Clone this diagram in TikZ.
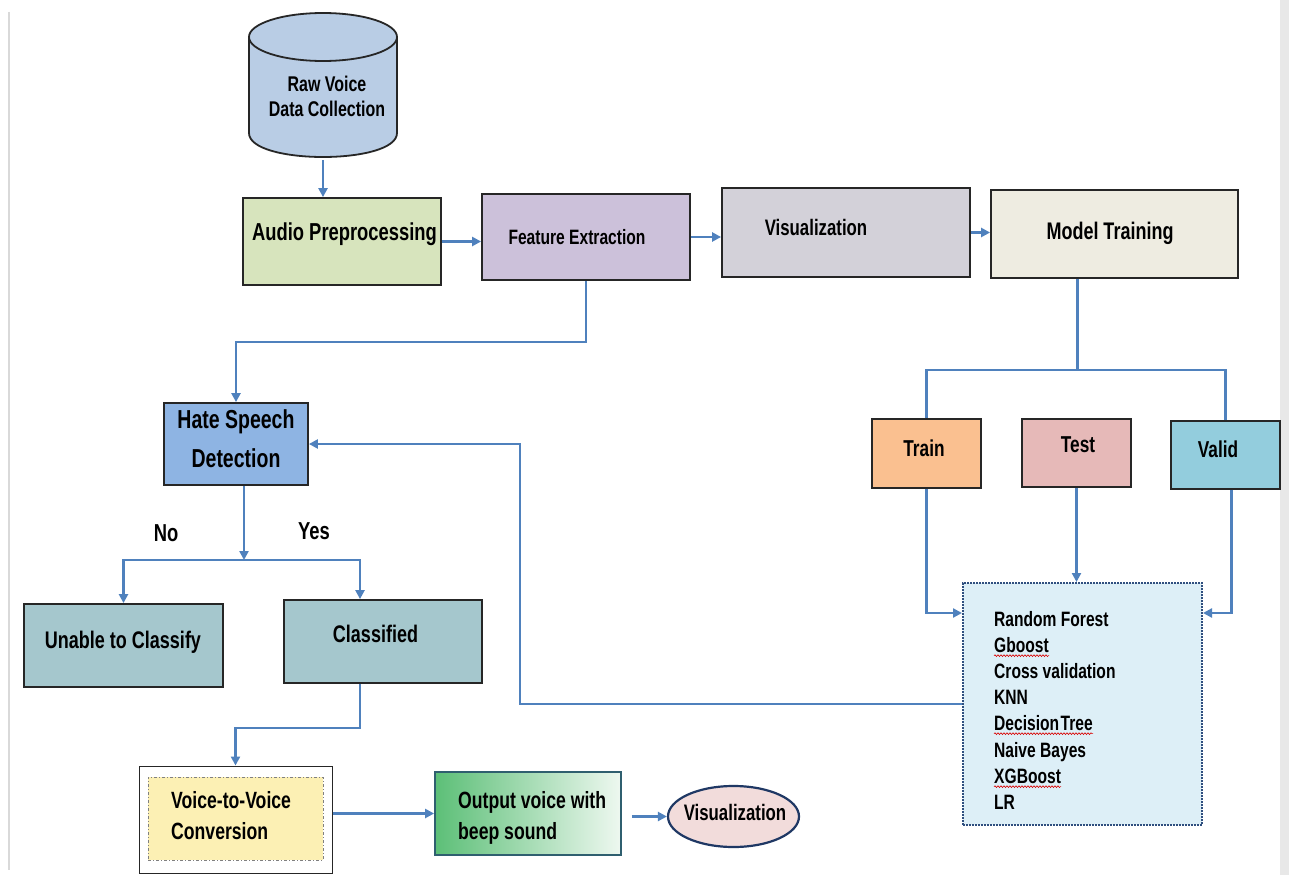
\documentclass[tikz,border=0pt]{standalone}
\usepackage{fontspec}
\setmainfont{Liberation Sans}[FakeStretch=0.75]
\usetikzlibrary{arrows.meta,shapes.geometric,decorations.pathmorphing}
\definecolor{arrowblue}{HTML}{4F81BD}
\definecolor{cylfill}{HTML}{B9CDE5}
\definecolor{apfill}{HTML}{D7E4BD}
\definecolor{fefill}{HTML}{CCC1DA}
\definecolor{visfill}{HTML}{D3D1D9}
\definecolor{mtfill}{HTML}{EEECE1}
\definecolor{hsdfill}{HTML}{8EB4E3}
\definecolor{clsfill}{HTML}{A5C7CD}
\definecolor{trainfill}{HTML}{FAC090}
\definecolor{testfill}{HTML}{E6B9B8}
\definecolor{validfill}{HTML}{93CDDD}
\definecolor{modfill}{HTML}{DDEFF7}
\definecolor{modborder}{HTML}{2F4F7F}
\definecolor{v2vfill}{HTML}{FCF0B4}
\definecolor{outleft}{HTML}{5CBF77}
\definecolor{outright}{HTML}{EEF8F0}
\definecolor{outborder}{HTML}{2F5F6F}
\definecolor{ellfill}{HTML}{F2DCDB}
\definecolor{ellborder}{HTML}{1F3864}
\definecolor{pagegray}{HTML}{D9D9D9}
\newcommand{\myfs}[1]{\fontsize{#1}{#1}\selectfont\bfseries}
\begin{document}
\begin{tikzpicture}[x=1pt,y=-1pt,
  box/.style={draw=black!85, line width=1.8, inner sep=0pt, rectangle},
  arr/.style={draw=arrowblue, line width=2.8, -{Triangle[length=9pt,width=9pt]}},
  conn/.style={draw=arrowblue, line width=2.8},
  lbl/.style={inner sep=0pt, anchor=mid, yshift=-2pt},
  lblw/.style={inner sep=0pt, anchor=mid west, yshift=-2pt},
  spell/.style={draw=red!85!black, line width=0.6, decorate,
    decoration={snake, amplitude=0.9pt, segment length=3pt}}]
\useasboundingbox (0,0) rectangle (1291,875);
\fill[white] (0,0) rectangle (1291,875);
% page edges
\draw[pagegray, line width=2] (8.5,12) -- (8.5,870);
\fill[pagegray!60] (1280,0) rectangle (1289,875);

% cylinder
\fill[cylfill] (249,37) -- (249,133) .. controls (249,165) and (397,165) .. (397,133) -- (397,37) -- cycle;
\draw[black!85, line width=1.8] (249,37) -- (249,133) .. controls (249,165) and (397,165) .. (397,133) -- (397,37);
\draw[black!85, line width=1.8, fill=cylfill] (323,37) ellipse [x radius=74, y radius=24];
\node[lbl, font=\myfs{21.3}] (rawA) at (327,87) {Raw Voice};
\node[lbl, font=\myfs{21.3}] (rawB) at (327,112) {Data Collection};
\coordinate (rawbot) at (323,160);

% top row
\node[box, fill=apfill, minimum width=198, minimum height=87] (AP) at (342,241.5) {};
\node[lbl, font=\myfs{24.5}] at (344.5,236) {Audio Preprocessing};
\node[box, fill=fefill, minimum width=208, minimum height=86] (FE) at (586,237) {};
\node[lbl, font=\myfs{20.8}] at (577,240) {Feature Extraction};
\node[box, fill=visfill, minimum width=248, minimum height=89] (Vis) at (846,232.5) {};
\node[lbl, font=\myfs{22.4}] at (816,231) {Visualization};
\node[box, fill=mtfill, minimum width=247, minimum height=88] (MT) at (1114.5,234) {};
\node[lbl, font=\myfs{24}] at (1110,235) {Model Training};

% left branch
\node[box, fill=hsdfill, minimum width=144, minimum height=82] (HSD) at (236,444) {};
\node[lbl, font=\myfs{26}] at (236,424) {Hate Speech};
\node[lbl, font=\myfs{26}] at (236,463) {Detection};
\node[lbl, font=\myfs{24.5}] (no) at (166,537) {No};
\node[lbl, font=\myfs{24.5}] (yes) at (314,535) {Yes};
\node[box, fill=clsfill, minimum width=199, minimum height=83] (Unable) at (123.5,645.5) {};
\node[lbl, font=\myfs{24}] at (123,644) {Unable to Classify};
\node[box, fill=clsfill, minimum width=198, minimum height=83] (Cls) at (383,641.5) {};
\node[lbl, font=\myfs{24}] at (375.5,638) {Classified};

% bottom row
\node[draw=black!85, line width=1, fill=white, inner sep=0pt, minimum width=193, minimum height=107] (V2V) at (235.5,819.5) {};
\node[draw=gray, line width=1, dash dot, fill=v2vfill, inner sep=0pt, minimum width=175, minimum height=83] (V2Vin) at (235.5,818.5) {};
\node[lblw, font=\myfs{23.5}] at (171,804) {Voice-to-Voice};
\node[lblw, font=\myfs{23.5}] at (171,835) {Conversion};
\node[draw=outborder, line width=1.8, left color=outleft, right color=outright, inner sep=0pt, minimum width=186, minimum height=83] (Out) at (528,813.5) {};
\node[lblw, font=\myfs{23.5}] at (458,804) {Output voice with};
\node[lblw, font=\myfs{23.5}] at (458,835) {beep sound};
\node[ellipse, draw=ellborder, line width=2.2, fill=ellfill, inner sep=0pt, minimum width=131, minimum height=61] (Ell) at (733.5,816.5) {};
\node[lbl, font=\myfs{22.4}] at (735,816) {Visualization};

% right branch
\node[box, fill=trainfill, minimum width=109, minimum height=69] (Train) at (926.5,453.5) {};
\node[lbl, font=\myfs{23}] at (924,452) {Train};
\node[box, fill=testfill, minimum width=109, minimum height=68] (Test) at (1076.5,453) {};
\node[lbl, font=\myfs{23}] at (1078,448) {Test};
\node[box, fill=validfill, minimum width=109, minimum height=68] (Valid) at (1225.5,455) {};
\node[lbl, font=\myfs{23}] at (1218,453) {Valid};
\node[draw=modborder, line width=2, densely dotted, fill=modfill, inner sep=0pt, minimum width=239, minimum height=242] (Models) at (1082.5,704) {};
\node[lblw, font=\myfs{20.8}] (m1) at (994,622) {Random Forest};
\node[lblw, font=\myfs{20.8}] (m2) at (994,648) {Gboost};
\node[lblw, font=\myfs{20.8}] (m3) at (994,674) {Cross validation};
\node[lblw, font=\myfs{20.8}] (m4) at (994,700) {KNN};
\node[lblw, font=\myfs{20.8}] (m5) at (994,726) {Decision\kern1.5pt Tree};
\node[lblw, font=\myfs{20.8}] (m6) at (994,753) {Naive Bayes};
\node[lblw, font=\myfs{20.8}] (m7) at (994,779) {XGBoost};
\node[lblw, font=\myfs{20.8}] (m8) at (994,805) {LR};
\draw[spell] ([yshift=-3pt]m2.base west) -- ([yshift=-3pt]m2.base east);
\draw[spell] ([yshift=-3pt]m5.base west) -- ([yshift=-3pt]m5.base east);
\draw[spell] ([yshift=-3pt]m7.base west) -- ([yshift=-3pt]m7.base east);

% connectors
\draw[arr] (rawbot) -- (rawbot |- AP.north);
\draw[arr] (AP.east) -- (AP.east -| FE.west);
\draw[arr] (FE.east) -- (FE.east -| Vis.west);
\draw[arr] (Vis.east) -- (Vis.east -| MT.west);
\draw[arr] (FE.south) -- ++(0,61) -| (HSD.north);
\coordinate (split) at ([xshift=8pt]HSD.south |- 0,560);
\draw[arr] ([xshift=8pt]HSD.south) -- (split);
\draw[arr] (split) -| (Unable.north);
\draw[arr] (split) -| ([xshift=-23pt]Cls.north);
\draw[arr] ([xshift=-23pt]Cls.south) -- ++(0,44) -| (V2V.north);
\draw[arr] (Out.west -| V2V.east) -- (Out.west);
\draw[arr] ([xshift=10pt]Out.east |- Ell.west) -- (Ell.west);
\draw[conn] ([xshift=-37pt]MT.south) -- ++(0,91) coordinate (mtj);
\draw[conn] (Train.north) |- (mtj) -| (Valid.north);
\draw[arr] (Train.south) |- (Models.west |- 0,613);
\draw[arr] (Test.south) -- (Test.south |- Models.north);
\draw[arr] ([xshift=6pt]Valid.south) |- (Models.east |- 0,613);
\draw[arr] (Models.west) -| ([xshift=211pt]HSD.east) -- (HSD.east);
\end{tikzpicture}
\end{document}
